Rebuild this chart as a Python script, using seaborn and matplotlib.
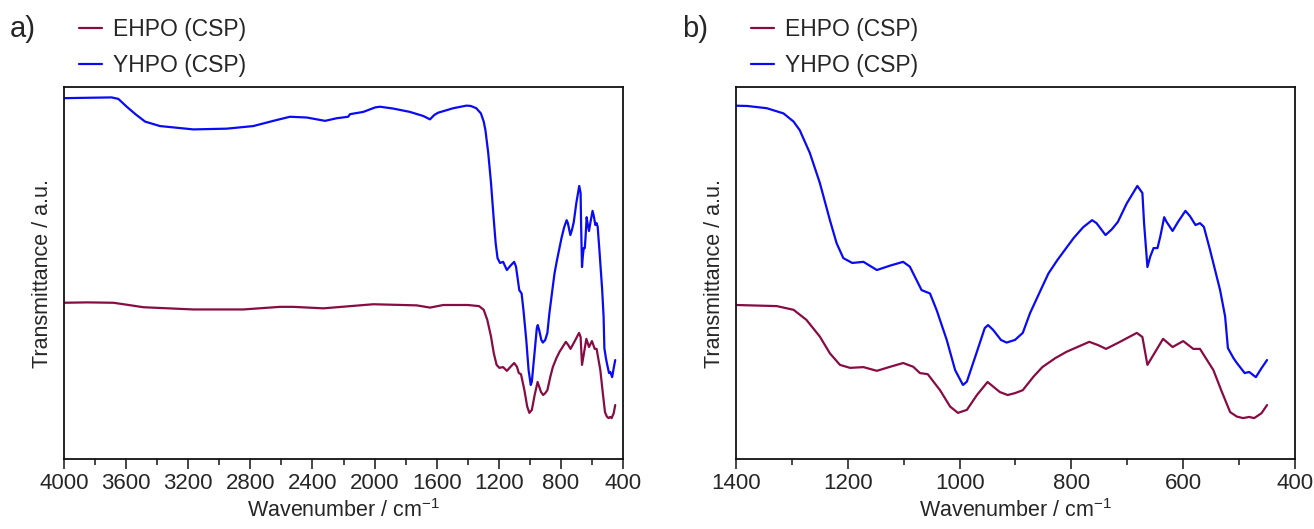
import matplotlib
matplotlib.use("Agg")
import matplotlib.pyplot as plt
import seaborn as sns
import pandas as pd
from matplotlib.ticker import MultipleLocator, NullLocator

# ---- data ----
wn_yhpo = [4000, 3850, 3693, 3650, 3596, 3540, 3478, 3382, 3167, 2952, 2781, 2652, 2545,
           2437, 2319, 2244, 2170, 2158, 2073, 1997, 1965, 1879, 1772, 1686, 1643, 1615,
           1590, 1493, 1407, 1380, 1345, 1315, 1297, 1286, 1268, 1250, 1232, 1220, 1208,
           1192, 1172, 1148, 1124, 1101, 1089, 1077, 1068, 1053, 1041, 1023, 1008, 994,
           987, 970, 955, 949, 940, 926, 916, 901, 887, 874, 855, 841, 825, 796, 779, 763,
           755, 739, 728, 717, 701, 682, 673, 670, 664, 659, 653, 646, 641, 634, 630, 619,
           609, 596, 588, 578, 570, 563, 552, 534, 525, 520, 510, 504, 490, 482, 470, 460,
           450]
t_yhpo = [97.0, 97.1, 97.2, 96.8, 94.7, 92.7, 90.7, 89.5, 88.6, 88.8, 89.5, 90.9, 92.0,
          91.8, 90.9, 91.6, 92.0, 92.7, 93.3, 94.5, 94.7, 94.2, 93.3, 92.2, 91.3, 92.5,
          93.1, 94.3, 95.0, 94.9, 94.3, 92.9, 90.7, 88.4, 82.3, 74.2, 64.2, 58.0, 54.0,
          52.7, 53.0, 50.8, 52.0, 53.0, 51.7, 48.1, 45.4, 44.5, 40.0, 32.0, 23.9, 19.9,
          20.8, 28.4, 35.2, 36.0, 34.7, 32.0, 31.3, 32.0, 33.9, 39.2, 45.4, 49.9, 53.5,
          59.4, 62.3, 64.2, 63.4, 60.2, 61.7, 63.7, 68.7, 73.4, 71.5, 63.4, 51.6, 54.4,
          56.7, 56.7, 59.8, 65.0, 63.8, 61.3, 63.8, 66.7, 65.3, 62.9, 63.4, 62.4, 56.2,
          45.4, 38.3, 29.8, 27.1, 25.8, 23.1, 23.4, 22.0, 24.4, 26.6]

wn_ehpo = [4000, 3850, 3682, 3600, 3489, 3167, 2845, 2609, 2523, 2330, 2008, 1729, 1643,
           1557, 1400, 1327, 1297, 1274, 1250, 1232, 1214, 1196, 1172, 1148, 1124, 1101,
           1083, 1071, 1057, 1035, 1017, 1003, 987, 969, 950, 928, 914, 901, 887, 868,
           852, 829, 809, 768, 752, 738, 713, 683, 673, 664, 650, 636, 619, 600, 582, 570,
           546, 531, 516, 504, 493, 482, 473, 460, 450]
t_ehpo = [42.0, 42.1, 42.0, 41.5, 40.8, 40.2, 40.2, 40.9, 40.9, 40.5, 41.6, 41.3, 40.7,
          41.4, 41.4, 41.1, 40.1, 37.4, 32.9, 28.4, 25.3, 24.5, 24.7, 23.7, 24.8, 25.8,
          24.8, 23.1, 22.8, 18.5, 14.1, 12.4, 13.2, 17.2, 20.7, 18.0, 17.2, 17.7, 18.5,
          22.1, 24.7, 27.1, 28.8, 31.5, 30.6, 29.6, 31.5, 33.9, 32.8, 25.3, 28.8, 32.3,
          30.1, 31.7, 29.6, 29.6, 23.9, 18.1, 12.6, 11.4, 11.0, 11.3, 11.0, 12.3, 14.5]

series_names = ["EHPO (CSP)", "YHPO (CSP)"]
series_colors = ["#870C43", "#0A0AF5"]
panel_letters = ["a)", "b)"]
xlims = [(4000, 400), (1400, 400)]
major_steps = [400, 200]
minor_steps = [200, 100]

df = pd.concat([
    pd.DataFrame({"wn": wn_ehpo, "T": t_ehpo, "sample": series_names[0]}),
    pd.DataFrame({"wn": wn_yhpo, "T": t_yhpo, "sample": series_names[1]}),
], ignore_index=True)

sns.set_style("white")
plt.rcParams["font.family"] = ["Liberation Sans", "DejaVu Sans"]
plt.rcParams["mathtext.default"] = "regular"

fig = plt.figure(figsize=(13.14, 5.29), dpi=100)
W, H = 1314, 529
boxes = [(64, 623), (736, 1295)]
top_px, bot_px = 87, 459

for i, (l, r) in enumerate(boxes):
    ax = fig.add_axes([l / W, 1 - bot_px / H, (r - l) / W, (bot_px - top_px) / H])
    sns.lineplot(data=df, x="wn", y="T", hue="sample", hue_order=series_names,
                 palette=series_colors, sort=False, estimator=None, ax=ax,
                 linewidth=1.6, legend=False)
    ax.set_xlim(*xlims[i])
    ax.set_ylim(0, 100)
    ax.xaxis.set_major_locator(MultipleLocator(major_steps[i]))
    ax.xaxis.set_minor_locator(MultipleLocator(minor_steps[i]))
    ax.yaxis.set_major_locator(NullLocator())
    ax.tick_params(axis="x", which="major", direction="out", length=7, width=1.2,
                   labelsize=16, pad=3, bottom=True)
    ax.tick_params(axis="x", which="minor", direction="out", length=4, width=1.2,
                   bottom=True)
    for s in ax.spines.values():
        s.set_linewidth(1.3)
        s.set_color("#111111")
    ax.set_xlabel("Wavenumber / cm$^{-1}$", fontsize=15.5, labelpad=4)
    ax.set_ylabel("Transmittance / a.u.", fontsize=15.5, labelpad=8)
    handles = [plt.Line2D([], [], color=c, lw=1.6) for c in series_colors]
    ax.legend(handles, series_names, loc="upper left", bbox_to_anchor=(0.027, 1.185),
              frameon=False, fontsize=16.5, handlelength=1.0, handletextpad=0.5,
              labelspacing=0.58, borderaxespad=0, borderpad=0)
    fig.text((l - 54) / W, 1 - 29 / H, panel_letters[i], fontsize=21, va="center",
             ha="left")

fig.savefig("out.png", dpi=100)
